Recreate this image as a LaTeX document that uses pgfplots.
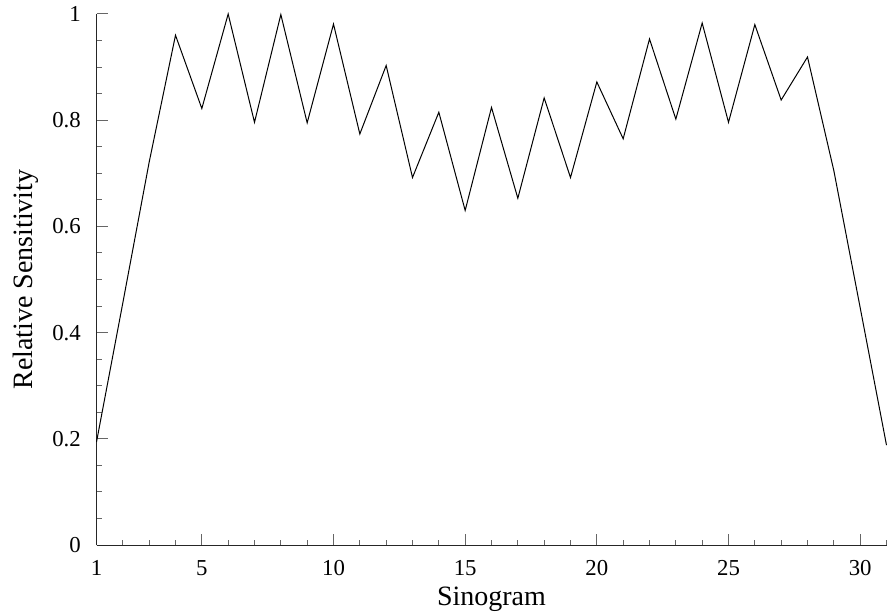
\documentclass[border=0pt]{standalone}
\usepackage{fontspec}
\setmainfont{Liberation Serif}
\usepackage{pgfplots}
\pgfplotsset{compat=1.18}

\begin{document}
\begin{tikzpicture}
% picture frame in px*0.5pt, axis box south west at (0,0)
\useasboundingbox (-48.25pt,-33.5pt) rectangle (396.25pt,272.5pt);
\begin{axis}[
    at={(0,0)}, anchor=south west,
    scale only axis,
    width=395pt, height=265.5pt,
    xmin=1, xmax=31,
    ymin=0, ymax=1,
    axis x line=bottom, axis y line=left,
    axis line style={-, line width=0.5pt, black!85},
    xtick={1,5,10,15,20,25,30},
    minor xtick={2,3,4,6,7,8,9,11,12,13,14,16,17,18,19,21,22,23,24,26,27,28,29,31},
    ytick={0,0.2,0.4,0.6,0.8,1},
    minor ytick={0.05,0.1,0.15,0.25,0.3,0.35,0.45,0.5,0.55,0.65,0.7,0.75,0.85,0.9,0.95},
    tick align=inside,
    major tick length=5.5pt,
    minor tick length=2.75pt,
    tick style={line width=0.5pt, black!60},
    /pgf/number format/assume math mode=true,
    ticklabel style={font=\fontsize{11.4}{13}\selectfont},
    xticklabel style={anchor=base, yshift=-15pt},
    yticklabel style={anchor=east, xshift=-4.3pt},
    label style={font=\fontsize{14}{16}\selectfont},
    xlabel={Sinogram},
    ylabel={Relative Sensitivity},
    xlabel style={at={(axis description cs:0.5,-0.113)}, anchor=base},
    ylabel style={at={(axis description cs:-0.0804,0.5)}, anchor=base},
    clip=false,
]
\addplot[black, line width=0.5pt, mark=none] coordinates {
    (1,0.194) (2,0.456) (3,0.721) (4,0.960) (5,0.822)
    (6,1.000) (7,0.796) (8,0.999) (9,0.795) (10,0.981)
    (11,0.774) (12,0.903) (13,0.692) (14,0.815) (15,0.630)
    (16,0.824) (17,0.653) (18,0.842) (19,0.692) (20,0.872)
    (21,0.765) (22,0.953) (23,0.802) (24,0.983) (25,0.796)
    (26,0.980) (27,0.838) (28,0.919) (29,0.705) (30,0.447)
    (31,0.188)
};
\end{axis}
\end{tikzpicture}
\end{document}
